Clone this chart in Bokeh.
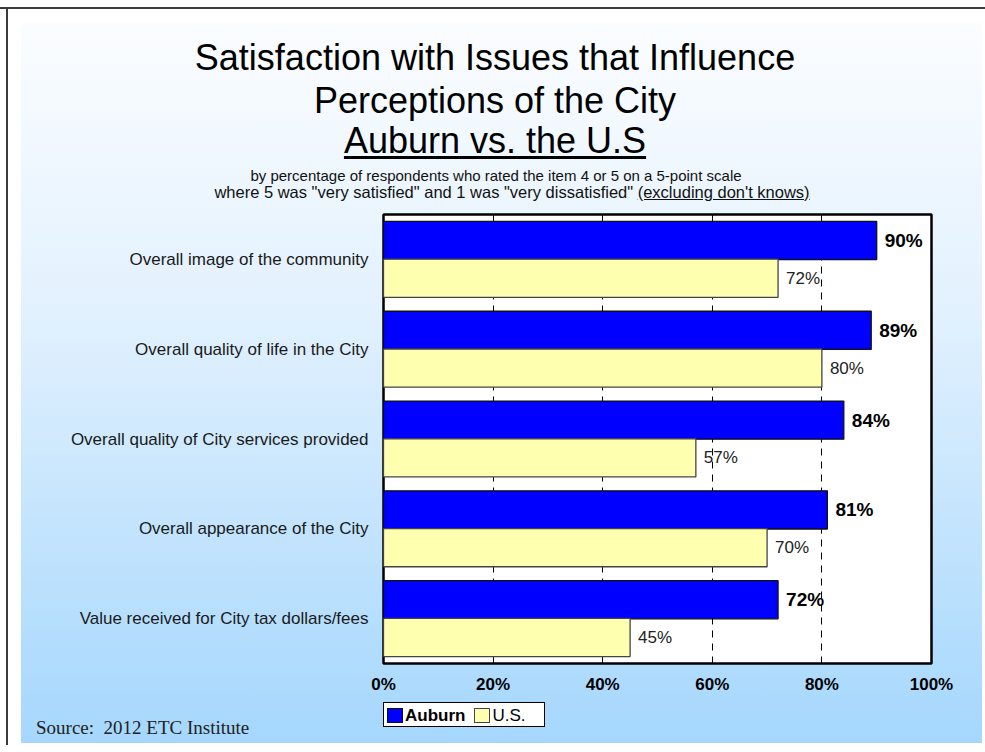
from bokeh.plotting import figure
from bokeh.layouts import column
from bokeh.models import ColumnDataSource, FactorRange, Range1d, FixedTicker, Div
from bokeh.transform import dodge
from bokeh.embed import file_html
from bokeh.resources import INLINE
from bokeh.core.properties import value

# ---------------- data ----------------
categories = [
    "Overall image of the community",
    "Overall quality of life in the City",
    "Overall quality of City services provided",
    "Overall appearance of the City",
    "Value received for City tax dollars/fees",
]
auburn = [90, 89, 84, 81, 72]
us = [72, 80, 57, 70, 45]
series_names = ["Auburn", "U.S."]
series_colors = ["#0000FF", "#FFFFB0"]
x_ticks = [0, 20, 40, 60, 80, 100]
x_tick_labels = ["0%", "20%", "40%", "60%", "80%", "100%"]

title_lines = ["Satisfaction with Issues that Influence", "Perceptions of the City", "Auburn vs. the U.S"]
subtitle_1 = "by percentage of respondents who rated the item 4 or 5 on a 5-point scale"
subtitle_2a = 'where 5 was "very satisfied" and 1 was "very dissatisfied" '
subtitle_2b = "(excluding don't knows)"
source_text = "Source:  2012 ETC Institute"

FONT = "Liberation Sans"
W = 985
HDR_H = 206

# ---------------- header (titles, real HTML text) ----------------
def line_div(center_x, baseline, size, inner, lh=None, color="black", asc=0.905, desc=0.212):
    lh = lh if lh is not None else size
    top = baseline - (lh / 2 + (asc - desc) / 2 * size)
    return (f'<div style="position:absolute;left:0;width:{2 * center_x}px;top:{top:.1f}px;'
            f'text-align:center;font-size:{size}px;line-height:{lh}px;white-space:pre;'
            f'color:{color};">{inner}</div>')

T, S1, S2 = 36, 15, 16.5
hdr_html = (
    f'<div style="position:relative;width:{W}px;height:{HDR_H}px;font-family:\'{FONT}\';">'
    + line_div(495, 70, T, title_lines[0], lh=34)
    + line_div(495, 113, T, title_lines[1], lh=34)
    + line_div(495, 153, T,
               f'<span style="text-decoration:underline;text-decoration-thickness:2.5px;'
               f'text-underline-offset:3px;">{title_lines[2]}</span>', lh=34)
    + line_div(496, 180.5, S1, subtitle_1, lh=13, color="#111111")
    + line_div(512, 198, S2,
               subtitle_2a
               + f'<span style="text-decoration:underline;text-underline-offset:1px;">'
               f'{subtitle_2b.replace(chr(39), "&#39;")}</span>', lh=13, color="#111111")
    + '</div>'
)
hdr = Div(text=hdr_html, width=W, height=HDR_H, margin=(0, 0, 0, 0))

# ---------------- chart ----------------
src = ColumnDataSource(dict(
    cat=categories,
    auburn=auburn,
    us=us,
    auburn_lbl=[f"{v}%" for v in auburn],
    us_lbl=[f"{v}%" for v in us],
))

p = figure(
    width=W, height=496,
    y_range=FactorRange(*reversed(categories), range_padding=0),
    x_range=Range1d(0, 100),
    output_backend="svg", toolbar_location=None,
    min_border_left=383, min_border_right=W - 931, min_border_top=8, min_border_bottom=39,
    margin=(0, 0, 0, 0),
)
p.border_fill_color = None
p.background_fill_color = "white"
p.outline_line_color = "black"
p.outline_line_width = 2.5

r_aub = p.hbar(y=dodge("cat", 0.21, range=p.y_range), right="auburn", left=0, height=0.425,
               fill_color=series_colors[0], line_color="#111111", line_width=1.3, source=src)
r_us = p.hbar(y=dodge("cat", -0.21, range=p.y_range), right="us", left=0, height=0.425,
              fill_color=series_colors[1], line_color="#444444", line_width=1.3, source=src)

p.text(x="auburn", y=dodge("cat", 0.21, range=p.y_range), text="auburn_lbl", source=src,
       x_offset=8, text_baseline="middle", text_font=value(FONT), text_font_size="19px",
       text_font_style="bold", text_color="black")
p.text(x="us", y=dodge("cat", -0.21, range=p.y_range), text="us_lbl", source=src,
       x_offset=8, text_baseline="middle", text_font=value(FONT), text_font_size="17px",
       text_color="#222222")

p.ygrid.visible = False
p.xgrid.ticker = FixedTicker(ticks=x_ticks[1:-1])
p.xgrid.grid_line_color = "black"
p.xgrid.grid_line_dash = "7 6"
p.xgrid.grid_line_width = 1

p.xaxis.ticker = FixedTicker(ticks=x_ticks)
p.xaxis.major_label_overrides = dict(zip(x_ticks, x_tick_labels))
p.xaxis.axis_line_color = None
p.xaxis.major_tick_line_color = None
p.xaxis.minor_tick_line_color = None
p.xaxis.major_tick_out = 0
p.xaxis.major_tick_in = 0
p.xaxis.minor_tick_out = 0
p.xaxis.major_label_text_font = FONT
p.xaxis.major_label_text_font_style = "bold"
p.xaxis.major_label_text_font_size = "17px"
p.xaxis.major_label_text_color = "black"
p.xaxis.major_label_standoff = 11

p.yaxis.axis_line_color = None
p.yaxis.major_tick_line_color = None
p.yaxis.minor_tick_line_color = None
p.yaxis.major_tick_out = 0
p.yaxis.major_tick_in = 0
p.yaxis.minor_tick_out = 0
p.yaxis.major_label_text_font = FONT
p.yaxis.major_label_text_font_size = "17px"
p.yaxis.major_label_text_color = "#1a1a1a"
p.yaxis.major_label_standoff = 15

# ---------------- footer (legend + source, real HTML text) ----------------
FTR_TOP = HDR_H + 496

def swatch(color, border):
    return (f'<span style="display:inline-block;width:14px;height:13px;background:{color};'
            f'border:1px solid {border};vertical-align:middle;margin-right:2px;"></span>')

src_size = 19
src_top = (734 - FTR_TOP) - (src_size / 2 + (0.891 - 0.216) / 2 * src_size)
ftr_html = (
    f'<div style="position:relative;width:{W}px;height:{745 - FTR_TOP}px;">'
    f'<div style="position:absolute;left:383px;top:{702 - FTR_TOP}px;width:157px;height:23px;background:white;'
    f'border:1px solid black;font-family:\'{FONT}\';font-size:17px;line-height:23px;'
    f'white-space:nowrap;padding-left:3px;box-sizing:content-box;">'
    + swatch(series_colors[0], "#111111")
    + f'<span style="font-weight:bold;vertical-align:middle;">{series_names[0]}</span>'
    + '<span style="display:inline-block;width:9px;"></span>'
    + swatch(series_colors[1], "#444444")
    + f'<span style="vertical-align:middle;">{series_names[1]}</span>'
    + '</div>'
    f'<div style="position:absolute;left:36px;top:{src_top:.1f}px;font-family:\'Liberation Serif\';'
    f'font-size:{src_size}px;line-height:{src_size}px;white-space:pre;color:#222222;">{source_text}</div>'
    + '</div>'
)
ftr = Div(text=ftr_html, width=W, height=745 - FTR_TOP, margin=(0, 0, 0, 0))

page = column(hdr, p, ftr, spacing=0, margin=(0, 0, 0, 0))
page.styles = {
    "background": (
        "linear-gradient(#3a3a3a,#3a3a3a) 0 7px / 100% 2px no-repeat, "
        "linear-gradient(#3a3a3a,#3a3a3a) 6px 7px / 2px 100% no-repeat, "
        "linear-gradient(to bottom, #fbfdff 0%, #e2f1fe 40%, #a5d7fd 100%) 21px 23px / 961px 720px no-repeat, "
        "white"
    )
}

open("out.html", "w").write(file_html(page, INLINE))
